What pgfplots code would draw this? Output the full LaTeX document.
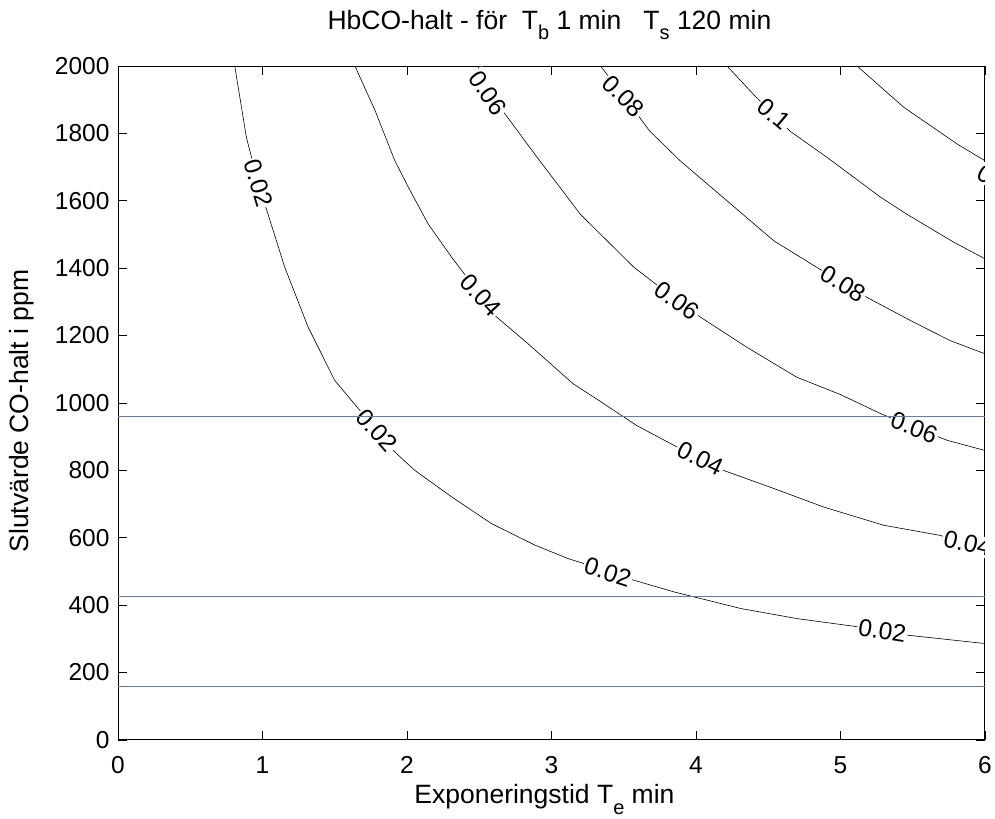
\documentclass[border=0pt]{standalone}
\usepackage{fontspec}
\setmainfont{Liberation Sans}
\usepackage{pgfplots}
\pgfplotsset{compat=1.18}
\definecolor{refblue}{RGB}{95,120,200}
\newcommand\sub[1]{\raisebox{-0.4em}{\fontsize{20bp}{23bp}\selectfont #1}}
\newcommand\lblfont{\fontsize{26.5bp}{30bp}\selectfont}
\newcommand\tckfont{\fontsize{24.5bp}{28bp}\selectfont}
\newcommand\cfont{\fontsize{24.5bp}{28bp}\selectfont}
\begin{document}
\begin{tikzpicture}
\path (0,0) rectangle (995bp,819bp);
\begin{axis}[
  at={(118bp,79bp)}, anchor=south west,
  scale only axis, width=867bp, height=674bp,
  xmin=0, xmax=6, ymin=0, ymax=2000,
  xtick={0,1,2,3,4,5,6},
  ytick={0,200,400,600,800,1000,1200,1400,1600,1800,2000},
  tick align=inside, major tick length=9bp,
  axis line style={line width=0.9bp},
  tick style={black, line width=0.6bp},
  ticklabel style={font=\tckfont},
  /pgf/number format/assume math mode=true,
  /pgf/number format/1000 sep={},
  scaled ticks=false,
  xticklabel style={yshift=-13bp},
  yticklabel style={xshift=-5bp},
  xlabel={Exponeringstid T\sub{e} min},
  ylabel={Slutvärde CO-halt i ppm},
  title={HbCO-halt - för\ \ T\sub{b} 1 min\ \ \ T\sub{s} 120 min},
  xlabel style={font=\lblfont, at={(axis description cs:0.5,0)}, anchor=base, yshift=-64bp, xshift=-7bp},
  ylabel style={font=\lblfont, at={(axis description cs:-0.1107,0.488)}, anchor=center, rotate=0},
  title style={font=\lblfont, at={(axis description cs:0.5,1)}, anchor=base, yshift=31bp, xshift=-2bp},
  clip=true,
]
% contour 0.02
\addplot[black, line width=0.6bp] coordinates {
(0.808,2000) (0.889,1788) (0.97,1653) (1.154,1403) (1.316,1225) (1.50,1067) (1.674,978) (1.79,918) (1.905,859) (2.054,800) (2.31,721) (2.585,642) (2.886,578) (3.116,538) (3.22,524) (3.39,498) (3.57,474) (3.85,439) (4.31,390) (4.70,360) (5.115,336) (5.29,323) (5.46,311) (6.0,286)};
% contour 0.04
\addplot[black, line width=0.6bp] coordinates {
(1.64,2000) (1.78,1867) (1.916,1719) (2.01,1640) (2.147,1531) (2.31,1432) (2.51,1319) (2.61,1259) (2.84,1175) (3.10,1076) (3.15,1057) (3.33,1007) (3.59,933) (3.87,869) (4.03,836) (4.19,800) (4.54,746) (4.885,691) (5.30,637) (5.69,607) (5.88,583) (6.0,572)};
% contour 0.06
\addplot[black, line width=0.6bp] coordinates {
(2.49,2000) (2.56,1920) (2.68,1857) (2.885,1738) (3.20,1560) (3.57,1403) (3.87,1304) (4.03,1255) (4.35,1166) (4.70,1076) (5.0,1025) (5.28,968) (5.51,927) (5.74,889) (6.0,859)};
% contour 0.08
\addplot[black, line width=0.6bp] coordinates {
(3.34,2000) (3.50,1911) (3.68,1807) (3.89,1719) (4.215,1600) (4.54,1481) (5.02,1354) (5.185,1313) (5.51,1239) (5.76,1185) (6.0,1146)};
% contour 0.1
\addplot[black, line width=0.6bp] coordinates {
(4.215,2000) (4.42,1906) (4.54,1857) (4.65,1807) (4.91,1728) (5.28,1610) (5.46,1560) (5.785,1477) (6.0,1428)};
% contour 0.12
\addplot[black, line width=0.6bp] coordinates {
(5.115,2000) (5.44,1877) (5.81,1768) (6.0,1719)};
% labels
\tikzset{clab/.style={fill=white, inner sep=1.5bp, font=\cfont}}
\node[clab, rotate=-73] at (axis cs:0.97,1653) {0.02};
\node[clab, rotate=-48] at (axis cs:1.79,918) {0.02};
\node[clab, rotate=-18] at (axis cs:3.39,498) {0.02};
\node[clab, rotate=-9] at (axis cs:5.29,323) {0.02};
\node[clab, rotate=-47] at (axis cs:2.51,1319) {0.04};
\node[clab, rotate=-26] at (axis cs:4.03,836) {0.04};
\node[clab, rotate=-13] at (axis cs:5.88,583) {0.04};
\node[clab, rotate=-55] at (axis cs:2.56,1920) {0.06};
\node[clab, rotate=-36] at (axis cs:3.87,1304) {0.06};
\node[clab, rotate=-21] at (axis cs:5.51,927) {0.06};
\node[clab, rotate=-45] at (axis cs:3.50,1911) {0.08};
\node[clab, rotate=-31] at (axis cs:5.02,1354) {0.08};
\node[clab, rotate=-40] at (axis cs:4.54,1857) {0.1};
\node[clab, rotate=-28] at (axis cs:6.11,1655) {0.12};
% blue reference lines
\addplot[refblue, line width=0.7bp] coordinates {(0,960) (6,960)};
\addplot[refblue, line width=0.7bp] coordinates {(0,426) (6,426)};
\addplot[refblue, line width=0.7bp] coordinates {(0,160) (6,160)};
\end{axis}
\end{tikzpicture}
\end{document}
